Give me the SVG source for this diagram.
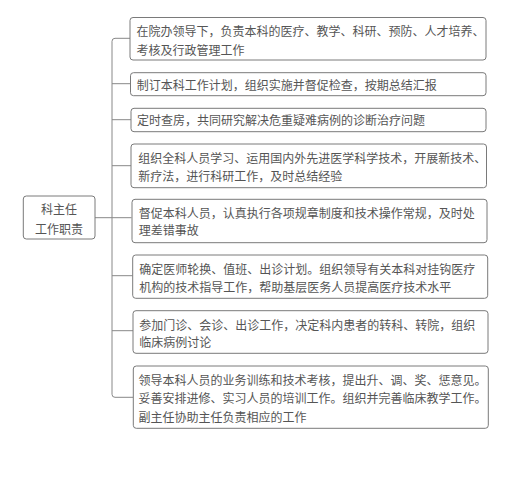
<svg xmlns="http://www.w3.org/2000/svg" width="513" height="502" viewBox="0 0 513 502">
<style>
.box{fill:#fff;stroke:#7a7a7a;stroke-width:1}
.t{font-family:"Noto Sans CJK SC","Noto Sans",sans-serif;font-size:12px;fill:#555}
.c{fill:none;stroke:#888;stroke-width:1}
</style>
<rect width="513" height="502" fill="#fff"/>
<g id="connectors">
<path class="c" d="M130,38.3 H115 Q112,38.3 112,41.3 V394.3 Q112,397.3 115,397.3 H133.3"/>
<path class="c" d="M95,217.7 H131.5"/>
<path class="c" d="M112,83.7 H130.5"/>
<path class="c" d="M112,119.7 H131"/>
<path class="c" d="M112,165.7 H131"/>
<path class="c" d="M112,275.7 H132.7"/>
<path class="c" d="M112,330.7 H133"/>
</g>
<g id="root">
<rect class="box" x="23.3" y="196" width="71.7" height="43" rx="3"/>
<text class="t" x="59" y="213.5" text-anchor="middle">科主任</text>
<text class="t" x="59" y="233.5" text-anchor="middle">工作职责</text>
</g>
<g id="n1">
<rect class="box" x="130" y="17.5" width="356" height="42.5" rx="3"/>
<text class="t" x="136.5" y="36">在院办领导下，负责本科的医疗、教学、科研、预防、人才培养、</text>
<text class="t" x="136.5" y="54.5">考核及行政管理工作</text>
</g>
<g id="n2">
<rect class="box" x="130.5" y="72.7" width="355.5" height="23" rx="3"/>
<text class="t" x="136.7" y="90">制订本科工作计划，组织实施并督促检查，按期总结汇报</text>
</g>
<g id="n3">
<rect class="box" x="131" y="108.3" width="355" height="23.4" rx="3"/>
<text class="t" x="137" y="125">定时查房，共同研究解决危重疑难病例的诊断治疗问题</text>
</g>
<g id="n4">
<rect class="box" x="131" y="144" width="355.5" height="43.7" rx="3"/>
<text class="t" x="138.3" y="162.7">组织全科人员学习、运用国内外先进医学科学技术，开展新技术、</text>
<text class="t" x="138.3" y="181">新疗法，进行科研工作，及时总结经验</text>
</g>
<g id="n5">
<rect class="box" x="132" y="199.3" width="355" height="43.4" rx="3"/>
<text class="t" x="138.7" y="217.7">督促本科人员，认真执行各项规章制度和技术操作常规，及时处</text>
<text class="t" x="138.7" y="234.8">理差错事故</text>
</g>
<g id="n6">
<rect class="box" x="132.7" y="255" width="355" height="43.3" rx="3"/>
<text class="t" x="139.3" y="273.5">确定医师轮换、值班、出诊计划。组织领导有关本科对挂钩医疗</text>
<text class="t" x="139.3" y="291.7">机构的技术指导工作，帮助基层医务人员提高医疗技术水平</text>
</g>
<g id="n7">
<rect class="box" x="133" y="310.7" width="355" height="42.6" rx="3"/>
<text class="t" x="139.3" y="329.5">参加门诊、会诊、出诊工作，决定科内患者的转科、转院，组织</text>
<text class="t" x="139.3" y="347">临床病例讨论</text>
</g>
<g id="n8">
<rect class="box" x="133.3" y="366" width="355" height="62.3" rx="3"/>
<text class="t" x="138.5" y="384.5">领导本科人员的业务训练和技术考核，提出升、调、奖、惩意见。</text>
<text class="t" x="138.5" y="402.7">妥善安排进修、实习人员的培训工作。组织并完善临床教学工作。</text>
<text class="t" x="138.5" y="421.5">副主任协助主任负责相应的工作</text>
</g>
</svg>
